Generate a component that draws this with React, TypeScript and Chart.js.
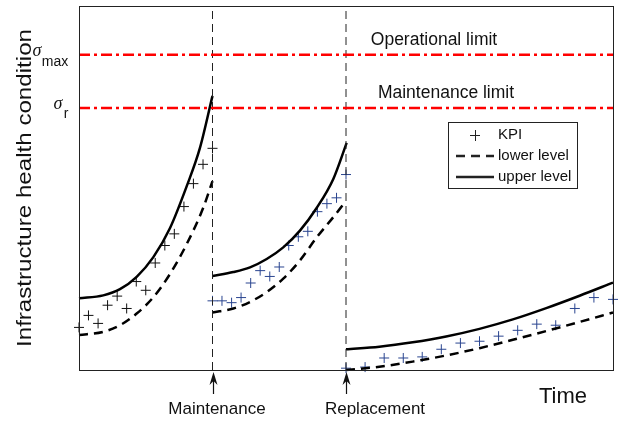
import React, { useEffect, useRef } from "react";
import { Chart, registerables } from "chart.js";

Chart.register(...registerables);

// ---- data ----
const upper1X = [0, 1.82, 3.07, 4.32, 5.57, 6.82, 8.07, 9.06, 10];
const upper1 = [19.7, 20.5, 22.2, 25.6, 31.0, 39.0, 50.5, 61.0, 75.3];
const lower1X = [0, 1.82, 3.07, 4.32, 5.57, 6.82, 8.07, 9.31, 10];
const lower1 = [9.6, 10.5, 12.3, 15.5, 20.0, 26.4, 34.6, 44.6, 51.9];

const upper2X = [10, 11.56, 12.81, 14.06, 15.3, 16.55, 17.8, 19.05, 20.05];
const upper2 = [25.8, 26.9, 28.2, 30.5, 33.7, 38.3, 44.5, 52.5, 62.4];
const lower2X = [10, 11.56, 12.81, 14.06, 15.3, 16.55, 17.8, 19.05, 19.8];
const lower2 = [15.8, 16.9, 18.7, 21.4, 25.1, 30.1, 36.4, 42.0, 45.5];

const upper3X = [20, 22.5, 25, 27.5, 30, 32.5, 35, 37.5, 40];
const upper3 = [5.7, 6.4, 7.6, 9.2, 11.3, 13.9, 17.0, 20.4, 24.0];
const lower3X = [20, 22.5, 25, 27.5, 30, 32.5, 35, 37.5, 40];
const lower3 = [0, 0.9, 2.3, 4.0, 6.0, 8.3, 10.7, 13.2, 15.8];

const kpi1X = [0, 0.71, 1.43, 2.14, 2.86, 3.57, 4.29, 5, 5.71, 6.43, 7.14, 7.86, 8.57, 9.29, 10];
const kpi1 = [11.7, 15.0, 12.8, 17.8, 20.3, 16.9, 24.3, 21.9, 29.4, 34.2, 37.4, 44.9, 51.2, 56.5, 60.9];
const kpi2X = [10, 10.71, 11.43, 12.14, 12.86, 13.57, 14.29, 15, 15.71, 16.43, 17.14, 17.86, 18.57, 19.29, 20];
const kpi2 = [19.0, 19.0, 18.5, 19.9, 23.9, 27.3, 25.7, 28.3, 34.2, 36.6, 38.1, 43.5, 45.7, 47.3, 53.7];
const kpi3X = [20, 21.43, 22.86, 24.29, 25.71, 27.14, 28.57, 30, 31.43, 32.86, 34.29, 35.71, 37.14, 38.57, 40];
const kpi3 = [0.5, 0.8, 3.3, 3.3, 3.6, 5.7, 7.4, 7.9, 9.3, 10.9, 12.6, 12.3, 16.9, 19.9, 19.4];

const sigmaMax = 86.6;
const sigmaR = 72.0;
const maintenanceT = 10;
const replacementT = 20;
const xMin = 0;
const xMax = 40;
const yMin = 0;
const yMax = 100;

const pts = (xs: number[], ys: number[]) => xs.map((x, i) => ({ x, y: ys[i] }));

const FONT = "'Liberation Sans', Arial, sans-serif";

const annotationPlugin = {
  id: "annot",
  afterDraw(chart: any) {
    const { ctx, chartArea, scales } = chart;
    const xs = scales.x;
    const ys = scales.y;
    ctx.save();
    // frame
    ctx.strokeStyle = "#222";
    ctx.lineWidth = 1;
    ctx.strokeRect(chartArea.left + 0.5, chartArea.top + 0.5, chartArea.right - chartArea.left, chartArea.bottom - chartArea.top);

    ctx.fillStyle = "#111";
    ctx.textBaseline = "middle";
    ctx.textAlign = "center";
    // limit labels
    ctx.font = `17.5px ${FONT}`;
    ctx.fillText("Operational limit", 434, 40);
    ctx.fillText("Maintenance limit", 446, 93);

    // sigma labels
    const yMaxPx = ys.getPixelForValue(sigmaMax);
    const yRPx = ys.getPixelForValue(sigmaR);
    ctx.textAlign = "center";
    ctx.font = `italic 18px 'Liberation Serif', serif`;
    ctx.fillText("σ", 37, yMaxPx - 4);
    ctx.fillText("σ", 58, yRPx - 4);
    ctx.font = `14px ${FONT}`;
    ctx.fillText("max", 55, yMaxPx + 7);
    ctx.fillText("r", 66, yRPx + 6);

    // y title
    ctx.save();
    ctx.translate(25, 188);
    ctx.rotate(-Math.PI / 2);
    ctx.textAlign = "center";
    ctx.font = `21px ${FONT}`;
    const title = "Infrastructure health condition";
    const w = ctx.measureText(title).width;
    ctx.scale(318 / w, 1);
    ctx.fillText(title, 0, 0);
    ctx.restore();

    // x title
    ctx.textAlign = "center";
    ctx.font = `22px ${FONT}`;
    ctx.fillText("Time", 563, 397);

    // event labels + arrows
    const events = [
      { t: maintenanceT, label: "Maintenance", lx: 217 },
      { t: replacementT, label: "Replacement", lx: 375 },
    ];
    ctx.font = `17px ${FONT}`;
    events.forEach((e) => {
      const px = Math.round(xs.getPixelForValue(e.t)) + 0.5;
      ctx.fillStyle = "#111";
      ctx.fillText(e.label, e.lx, 409);
      ctx.strokeStyle = "#111";
      ctx.lineWidth = 1.2;
      ctx.beginPath();
      ctx.moveTo(px, 394);
      ctx.lineTo(px, 376);
      ctx.stroke();
      ctx.beginPath();
      ctx.moveTo(px, 372);
      ctx.lineTo(px - 4, 385);
      ctx.lineTo(px, 381);
      ctx.lineTo(px + 4, 385);
      ctx.closePath();
      ctx.fill();
    });

    // legend box
    const lx = 448, ly = 122, lw = 129, lh = 66;
    ctx.fillStyle = "#fff";
    ctx.fillRect(lx, ly, lw, lh);
    ctx.strokeStyle = "#222";
    ctx.lineWidth = 1;
    ctx.strokeRect(lx + 0.5, ly + 0.5, lw, lh);
    ctx.fillStyle = "#111";
    ctx.font = `15px ${FONT}`;
    ctx.textAlign = "left";
    // KPI
    ctx.beginPath();
    ctx.moveTo(470, 135.5);
    ctx.lineTo(480, 135.5);
    ctx.moveTo(475.5, 130);
    ctx.lineTo(475.5, 141);
    ctx.stroke();
    ctx.fillText("KPI", 498, 135);
    // lower
    ctx.lineWidth = 2.5;
    ctx.setLineDash([9, 6]);
    ctx.beginPath();
    ctx.moveTo(456, 156);
    ctx.lineTo(494, 156);
    ctx.stroke();
    ctx.setLineDash([]);
    ctx.fillText("lower level", 498, 156);
    ctx.beginPath();
    ctx.moveTo(456, 177);
    ctx.lineTo(494, 177);
    ctx.stroke();
    ctx.fillText("upper level", 498, 177);
    ctx.restore();
  },
};

export default function App() {
  const ref = useRef<HTMLCanvasElement | null>(null);
  useEffect(() => {
    if (!ref.current) return;
    const blue = "#2a4590";
    const lineBase = { showLine: true, pointRadius: 0, borderColor: "#000", borderWidth: 2.5, cubicInterpolationMode: "monotone", clip: false, fill: false };
    const kpiBase = { showLine: false, pointStyle: "cross", pointRadius: 5, pointBorderWidth: 1, clip: false };
    const straight = { cubicInterpolationMode: "default", tension: 0 };
    const chart = new Chart(ref.current, {
      type: "scatter",
      data: {
        datasets: [
          { ...lineBase, ...straight, label: "limit max", data: [{ x: xMin, y: sigmaMax }, { x: xMax, y: sigmaMax }], borderColor: "#ff0000", borderWidth: 2.5, borderDash: [11, 4, 3, 4] },
          { ...lineBase, ...straight, label: "limit r", data: [{ x: xMin, y: sigmaR }, { x: xMax, y: sigmaR }], borderColor: "#ff0000", borderWidth: 2.5, borderDash: [11, 4, 3, 4] },
          { ...lineBase, ...straight, label: "maint", data: [{ x: maintenanceT, y: yMin }, { x: maintenanceT, y: yMax }], borderColor: "#222", borderWidth: 1, borderDash: [8, 5] },
          { ...lineBase, ...straight, label: "repl", data: [{ x: replacementT, y: yMin }, { x: replacementT, y: yMax }], borderColor: "#222", borderWidth: 1, borderDash: [8, 5] },
          { ...lineBase, label: "upper1", data: pts(upper1X, upper1) },
          { ...lineBase, label: "upper2", data: pts(upper2X, upper2) },
          { ...lineBase, label: "upper3", data: pts(upper3X, upper3) },
          { ...lineBase, label: "lower1", data: pts(lower1X, lower1), borderDash: [9, 6] },
          { ...lineBase, label: "lower2", data: pts(lower2X, lower2), borderDash: [9, 6] },
          { ...lineBase, label: "lower3", data: pts(lower3X, lower3), borderDash: [9, 6] },
          { ...kpiBase, label: "kpi1", data: pts(kpi1X, kpi1), borderColor: "#111", backgroundColor: "#111" },
          { ...kpiBase, label: "kpi2", data: pts(kpi2X, kpi2), borderColor: blue, backgroundColor: blue },
          { ...kpiBase, label: "kpi3", data: pts(kpi3X, kpi3), borderColor: blue, backgroundColor: blue },
        ] as any,
      },
      options: {
        animation: false,
        responsive: false,
        events: [],
        layout: { padding: { left: 79, right: 17, top: 4, bottom: 51 } },
        plugins: { legend: { display: false }, tooltip: { enabled: false } },
        scales: {
          x: { type: "linear", min: xMin, max: xMax, display: false },
          y: { type: "linear", min: yMin, max: yMax, display: false },
        },
      } as any,
      plugins: [annotationPlugin],
    });
    return () => chart.destroy();
  }, []);
  return (
    <div style={{ position: "fixed", left: 0, top: 0, width: 630, height: 421, background: "#fff" }}>
      <canvas ref={ref} width={630} height={421} style={{ display: "block" }} />
    </div>
  );
}
